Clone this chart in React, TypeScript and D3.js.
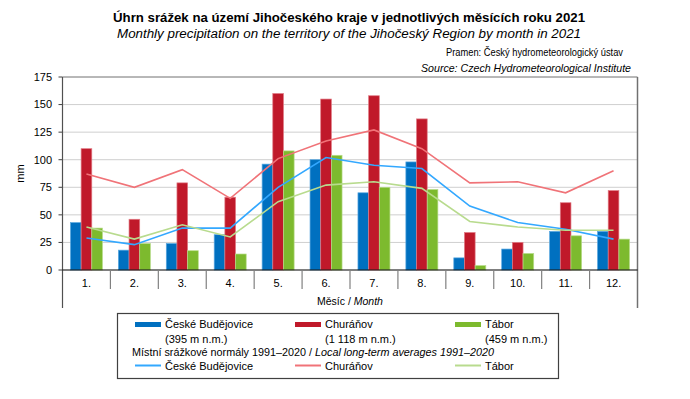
import React from "react";
import * as d3 from "d3";

const months = ["1.", "2.", "3.", "4.", "5.", "6.", "7.", "8.", "9.", "10.", "11.", "12."];
const budejovice = [43, 18, 24, 32, 96, 100, 70, 98, 11, 19, 35, 35];
const churanov = [110, 46, 79, 66, 160, 155, 158, 137, 34, 25, 61, 72];
const tabor = [38, 24, 17.5, 14.5, 108, 104, 75, 73, 4, 15, 31, 28];
const normBudejovice = [29, 23, 38, 38, 75, 102, 95, 92, 58, 43, 37, 28];
const normChuranov = [87, 75, 91, 65, 101, 117, 127, 110, 79, 80, 70, 90];
const normTabor = [39, 28, 41, 30, 62, 77, 80, 74, 44, 39, 36, 36];
const yTicks = [0, 25, 50, 75, 100, 125, 150, 175];

const barSeries = [
  { key: "bud", name: "České Budějovice", alt: "(395 m n.m.)", values: budejovice, color: "#0070C0", edge: "#5AA8E0" },
  { key: "chu", name: "Churáňov", alt: "(1 118 m n.m.)", values: churanov, color: "#C0192A", edge: "#E07A84" },
  { key: "tab", name: "Tábor", alt: "(459 m n.m.)", values: tabor, color: "#7DBA2E", edge: "#B7DC8A" },
];
const lineSeries = [
  { key: "nbud", name: "České Budějovice", values: normBudejovice, color: "#33A8FF" },
  { key: "nchu", name: "Churáňov", values: normChuranov, color: "#F07378" },
  { key: "ntab", name: "Tábor", values: normTabor, color: "#B8DB8E" },
];

const FONT = "'Liberation Sans', Arial, sans-serif";

export default function App() {
  const width = 690;
  const height = 399;
  const MARGIN = { top: 77, right: 52.5, bottom: 129, left: 62.5 };
  const plotBottom = height - MARGIN.bottom;
  const plotRight = width - MARGIN.right;

  const xScale = d3.scaleBand().domain(months).range([MARGIN.left, plotRight]).padding(0);
  const groupW = 32;
  const inner = d3
    .scaleBand()
    .domain(barSeries.map((s) => s.key))
    .range([(xScale.bandwidth() - groupW) / 2, (xScale.bandwidth() + groupW) / 2]);
  const yScale = d3.scaleLinear().domain([0, 175]).range([plotBottom, MARGIN.top]);

  const line = d3
    .line<number>()
    .x((_, i) => (xScale(months[i]) as number) + xScale.bandwidth() / 2)
    .y((d) => yScale(d));

  const legendCols = [135, 295, 455];

  return (
    <div style={{ position: "absolute", left: 0, top: 0 }}>
      <svg width={width} height={height} style={{ fontFamily: FONT, display: "block" }}>
        <rect width={width} height={height} fill="#fff" />
        <text x={113} y={22} fontSize={12.5} fontWeight={700} fill="#000" textLength={472} lengthAdjust="spacingAndGlyphs">
          Úhrn srážek na území Jihočeského kraje v jednotlivých měsících roku 2021
        </text>
        <text x={117} y={38} fontSize={12} fontStyle="italic" fill="#000" textLength={464} lengthAdjust="spacingAndGlyphs">
          Monthly precipitation on the territory of the Jihočeský Region by month in 2021
        </text>
        <text x={446} y={56} fontSize={11} fill="#000" textLength={177} lengthAdjust="spacingAndGlyphs">
          Pramen: Český hydrometeorologický ústav
        </text>
        <text x={421} y={72} fontSize={11} fontStyle="italic" fill="#000" textLength={210} lengthAdjust="spacingAndGlyphs">
          Source: Czech Hydrometeorological Institute
        </text>

        {/* grid */}
        {yTicks.slice(1, -1).map((t) => (
          <line key={t} x1={MARGIN.left} x2={plotRight} y1={yScale(t)} y2={yScale(t)} stroke="#CFCFCF" strokeWidth={1} />
        ))}
        {yTicks.map((t) => (
          <g key={"yt" + t}>
            <line x1={MARGIN.left - 4} x2={MARGIN.left} y1={yScale(t)} y2={yScale(t)} stroke="#404040" />
            <text x={52} y={yScale(t)} dy="0.35em" textAnchor="end" fontSize={11} fill="#000">
              {t}
            </text>
          </g>
        ))}
        <text transform={`translate(24,${(MARGIN.top + plotBottom) / 2}) rotate(-90)`} textAnchor="middle" fontSize={11} fill="#000">
          mm
        </text>

        {/* bars */}
        {barSeries.map((s) =>
          s.values.map((v, i) => (
            <rect
              key={s.key + i}
              x={(xScale(months[i]) as number) + (inner(s.key) as number)}
              y={yScale(v)}
              width={inner.bandwidth()}
              height={plotBottom - yScale(v)}
              fill={s.color}
              stroke={s.edge}
              strokeWidth={0.7}
            />
          ))
        )}

        {/* lines */}
        {lineSeries.map((s) => (
          <path key={s.key} d={line(s.values) || ""} fill="none" stroke={s.color} strokeWidth={1.6} />
        ))}

        {/* frame */}
        <line x1={MARGIN.left} x2={plotRight} y1={MARGIN.top} y2={MARGIN.top} stroke="#707070" />
        <line x1={plotRight} x2={plotRight} y1={MARGIN.top} y2={308} stroke="#707070" strokeWidth={1.5} />
        <line x1={MARGIN.left} x2={MARGIN.left} y1={MARGIN.top} y2={308} stroke="#505050" strokeWidth={1.2} />
        <line x1={MARGIN.left} x2={plotRight} y1={plotBottom} y2={plotBottom} stroke="#000" strokeWidth={1.2} />

        {/* category axis */}
        {months.map((m, i) => (
          <g key={m}>
            {i > 0 && (
              <line
                x1={xScale(m)}
                x2={xScale(m)}
                y1={plotBottom}
                y2={289}
                stroke="#808080"
                strokeWidth={1.2}
              />
            )}
            <text x={(xScale(m) as number) + xScale.bandwidth() / 2} y={287} textAnchor="middle" fontSize={11} fill="#000">
              {m}
            </text>
          </g>
        ))}
        <text x={(MARGIN.left + plotRight) / 2} y={305} textAnchor="middle" fontSize={10.5} fill="#000">
          Měsíc / <tspan fontStyle="italic">Month</tspan>
        </text>

        {/* legend */}
        <rect x={117.5} y={313.5} width={441} height={65} fill="#fff" stroke="#404040" strokeWidth={1.2} />
        {barSeries.map((s, i) => (
          <g key={"lb" + s.key}>
            <rect x={legendCols[i]} y={322} width={26} height={5} fill={s.color} />
            <text x={legendCols[i] + 30} y={328} fontSize={11} fill="#000">
              {s.name}
            </text>
            <text x={legendCols[i] + 30} y={343} fontSize={11} fill="#000">
              {s.alt}
            </text>
          </g>
        ))}
        <text x={132} y={356} fontSize={10.8} fill="#000">
          Místní srážkové normály 1991–2020 / <tspan fontStyle="italic">Local long-term averages 1991–2020</tspan>
        </text>
        {lineSeries.map((s, i) => (
          <g key={"ll" + s.key}>
            <line x1={legendCols[i]} x2={legendCols[i] + 26} y1={365.5} y2={365.5} stroke={s.color} strokeWidth={2} />
            <text x={legendCols[i] + 30} y={369.5} fontSize={11} fill="#000">
              {s.name}
            </text>
          </g>
        ))}
      </svg>
    </div>
  );
}
